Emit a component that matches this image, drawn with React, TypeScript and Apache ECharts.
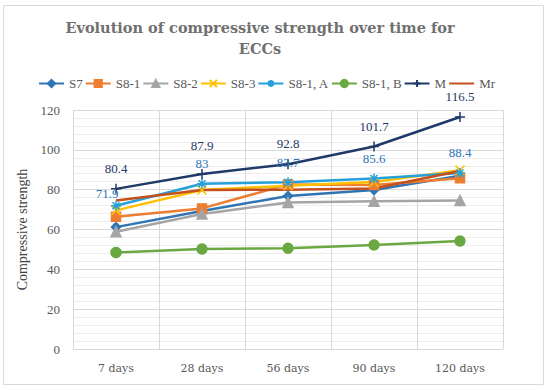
import React, { useEffect, useRef } from "react";
import * as echarts from "echarts";

const categories = ["7 days", "28 days", "56 days", "90 days", "120 days"];
const s7 = [61.2, 69.3, 76.8, 79.8, 87.0];
const s81 = [66.4, 70.6, 82.6, 82.3, 85.7];
const s82 = [58.9, 67.8, 73.6, 74.2, 74.6];
const s83 = [69.6, 79.8, 82.0, 83.8, 89.8];
const s81a = [71.9, 83, 83.7, 85.6, 88.4];
const s81b = [48.4, 50.2, 50.6, 52.2, 54.2];
const m = [80.4, 87.9, 92.8, 101.7, 116.5];
const mr = [74.6, 79.8, 80.0, 80.6, 89.4];
const yTicks = { min: 0, max: 120, interval: 20 };
const titleLines = ["Evolution of compressive strength over time for", "ECCs"];

const SERIF = "Liberation Serif, DejaVu Serif, serif";

export default function App() {
  const ref = useRef<HTMLDivElement>(null);
  useEffect(() => {
    if (!ref.current) return;
    const chart = echarts.init(ref.current, undefined, { renderer: "svg" });
    const mk = (
      name: string,
      data: any[],
      color: string,
      symbol: string,
      symbolSize: number,
      extra: any = {}
    ) => ({
      name,
      type: "line",
      data,
      symbol,
      symbolSize,
      showSymbol: symbol !== "none",
      lineStyle: { color, width: 2.5 },
      itemStyle: { color, borderColor: color, borderWidth: 1.5 },
      emphasis: { disabled: true },
      z: 2,
      ...extra,
    });
    const aLabels = s81a.map((v, i) =>
      i === 0
        ? { value: v, label: { show: true, position: "top", offset: [-9, 5] } }
        : { value: v, label: { show: true, position: "top", distance: 8 } }
    );
    const mLabels = m.map((v, i) =>
      i === 1
        ? { value: v, label: { show: true, position: "top", distance: 16 } }
        : { value: v, label: { show: true, position: "top", distance: 8 } }
    );
    const titleStyle = {
      fontFamily: "DejaVu Serif, serif",
      fontWeight: "bold",
      fontSize: 14.5,
      fill: "#707070",
      align: "center",
      verticalAlign: "middle",
    };
    chart.setOption({
      animation: false,
      legend: {
        top: 72,
        left: 33,
        itemWidth: 25,
        itemHeight: 9,
        itemGap: 2,
        textStyle: { fontFamily: SERIF, fontSize: 13, color: "#595959" },
        data: [
          "S7",
          "S8-1",
          "S8-2",
          "S8-3",
          "S8-1, A",
          "S8-1, B",
          "M",
          { name: "Mr", itemStyle: { opacity: 0 } },
        ],
      },
      graphic: [
        {
          type: "rect",
          shape: { x: 3.5, y: 5.5, width: 540, height: 379 },
          style: { fill: "none", stroke: "#D9D9D9", lineWidth: 1 },
          silent: true,
        },
        {
          type: "text",
          x: 260,
          y: 27,
          silent: true,
          style: { text: titleLines[0], ...titleStyle },
        },
        {
          type: "text",
          x: 260,
          y: 48,
          silent: true,
          style: { text: titleLines[1], ...titleStyle },
        },
      ],
      grid: { left: 73, right: 47, top: 110, bottom: 41 },
      xAxis: {
        type: "category",
        data: categories,
        boundaryGap: true,
        axisLine: { show: true, lineStyle: { color: "#D9D9D9" } },
        axisTick: { show: false },
        splitLine: { show: true, interval: 0, lineStyle: { color: "#D9D9D9" } },
        axisLabel: {
          fontFamily: "DejaVu Serif, serif",
          fontSize: 11,
          color: "#595959",
          margin: 14,
        },
      },
      yAxis: {
        type: "value",
        ...yTicks,
        name: "Compressive strength",
        nameLocation: "middle",
        nameGap: 44,
        nameTextStyle: { fontFamily: SERIF, fontSize: 14, color: "#404040" },
        axisLine: { show: false },
        axisTick: { show: false },
        axisLabel: { fontFamily: SERIF, fontSize: 13, color: "#595959", margin: 13 },
        splitLine: { show: true, lineStyle: { color: "#D9D9D9" } },
        minorTick: { show: false, splitNumber: 5 },
        minorSplitLine: { show: true, lineStyle: { color: "#EDEDED" } },
      },
      series: [
        mk("S7", s7, "#2F75B5", "diamond", 9),
        mk("S8-1", s81, "#ED7D31", "rect", 9),
        mk("S8-2", s82, "#A5A5A5", "triangle", 10),
        mk("S8-3", s83, "#FFC000", "path://M0,0L10,10M10,0L0,10", 9),
        mk("S8-1, A", aLabels, "#25A0DA", "path://M5,0L5,10M0,5L10,5M1.5,1.5L8.5,8.5M8.5,1.5L1.5,8.5", 10, {
          label: {
            show: true,
            fontFamily: SERIF,
            fontSize: 13,
            color: "#2E75B6",
          },
        }),
        mk("S8-1, B", s81b, "#6AA842", "circle", 10),
        mk("M", mLabels, "#1F3A68", "path://M5,0L5,10M0,5L10,5", 10, {
          label: {
            show: true,
            fontFamily: SERIF,
            fontSize: 13,
            color: "#1F3864",
          },
        }),
        mk("Mr", mr, "#C4501C", "none", 0),
      ],
    });
    return () => chart.dispose();
  }, []);
  return (
    <div
      ref={ref}
      style={{ position: "fixed", left: 0, top: 0, width: 550, height: 390, background: "#fff" }}
    />
  );
}
